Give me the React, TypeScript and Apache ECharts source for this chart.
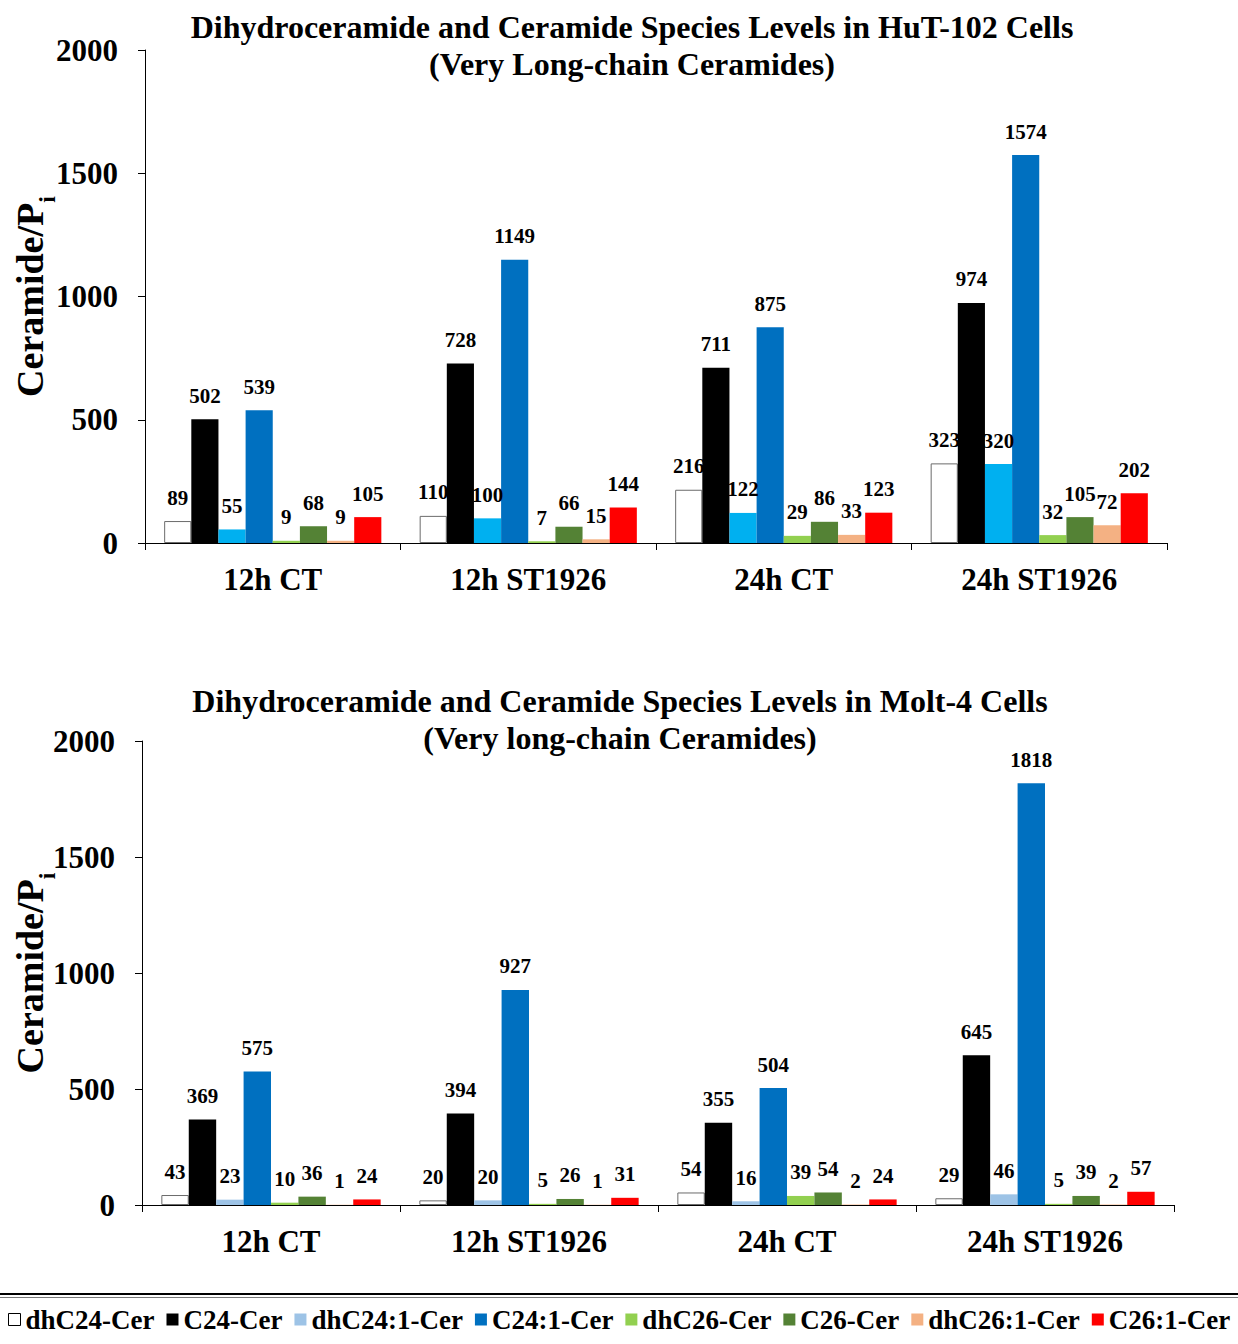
import React, { useEffect, useRef } from "react";
import * as echarts from "echarts";

// Time points / treatments on the category axis
const categories = ["12h CT", "12h ST1926", "24h CT", "24h ST1926"];

// Ceramide species in drawing order
const speciesNames = [
  "dhC24-Cer",
  "C24-Cer",
  "dhC24:1-Cer",
  "C24:1-Cer",
  "dhC26-Cer",
  "C26-Cer",
  "dhC26:1-Cer",
  "C26:1-Cer",
];

// HuT-102 cells, one array per species (values for each category)
const hutDhC24 = [89, 110, 216, 323];
const hutC24 = [502, 728, 711, 974];
const hutDhC24_1 = [55, 100, 122, 320];
const hutC24_1 = [539, 1149, 875, 1574];
const hutDhC26 = [9, 7, 29, 32];
const hutC26 = [68, 66, 86, 105];
const hutDhC26_1 = [9, 15, 33, 72];
const hutC26_1 = [105, 144, 123, 202];

// Molt-4 cells, one array per species
const moltDhC24 = [43, 20, 54, 29];
const moltC24 = [369, 394, 355, 645];
const moltDhC24_1 = [23, 20, 16, 46];
const moltC24_1 = [575, 927, 504, 1818];
const moltDhC26 = [10, 5, 39, 5];
const moltC26 = [36, 26, 54, 39];
const moltDhC26_1 = [1, 1, 2, 2];
const moltC26_1 = [24, 31, 24, 57];

const yTicks = [0, 500, 1000, 1500, 2000];

const hutSeries = [hutDhC24, hutC24, hutDhC24_1, hutC24_1, hutDhC26, hutC26, hutDhC26_1, hutC26_1];
const moltSeries = [moltDhC24, moltC24, moltDhC24_1, moltC24_1, moltDhC26, moltC26, moltDhC26_1, moltC26_1];

const hutColors = ["#FFFFFF", "#000000", "#00B0F0", "#0070C0", "#92D050", "#548235", "#F4B183", "#FF0000"];
const moltColors = ["#FFFFFF", "#000000", "#9DC3E6", "#0070C0", "#92D050", "#548235", "#F4B183", "#FF0000"];

const FONT = "'Liberation Serif', 'Times New Roman', serif";

function buildSeries(values: number[][], colors: string[], axisIndex: number) {
  return values.map((data, i) => ({
    name: speciesNames[i],
    type: "bar",
    xAxisIndex: axisIndex,
    yAxisIndex: axisIndex,
    data,
    barGap: "0%",
    barCategoryGap: "15%",
    itemStyle: {
      color: colors[i],
      borderColor: i === 0 ? "#6b6b6b" : colors[i],
      borderWidth: i === 0 ? 1 : 0,
    },
    label: {
      show: true,
      position: "top",
      distance: 13,
      color: "#000",
      fontFamily: FONT,
      fontWeight: "bold",
      fontSize: 21,
    },
  }));
}

function yAxisFor(gridIndex: number, nameGap: number) {
  return {
    type: "value",
    gridIndex,
    min: yTicks[0],
    max: yTicks[yTicks.length - 1],
    interval: 500,
    name: "{a|Ceramide/P}{b|i}",
    nameLocation: "middle",
    nameRotate: 90,
    nameGap,
    nameMoveOverlap: false,
    nameTextStyle: {
      rich: {
        a: {
          fontFamily: FONT,
          fontWeight: "bold",
          fontSize: 38,
          color: "#000",
          lineHeight: 48,
          verticalAlign: "top",
        },
        b: {
          fontFamily: FONT,
          fontWeight: "bold",
          fontSize: 24,
          color: "#000",
          lineHeight: 48,
          verticalAlign: "bottom",
        },
      },
    },
    splitLine: { show: false },
    axisLine: { show: true, lineStyle: { color: "#000", width: 1 } },
    axisTick: { show: true, length: 7, lineStyle: { color: "#000" } },
    axisLabel: {
      margin: 27,
      color: "#000",
      fontFamily: FONT,
      fontWeight: "bold",
      fontSize: 31,
      formatter: (v: number) => String(v),
    },
  };
}

function xAxisFor(gridIndex: number) {
  return {
    type: "category",
    gridIndex,
    data: categories,
    axisLine: { show: true, lineStyle: { color: "#000", width: 1 } },
    axisTick: { show: true, length: 7, alignWithLabel: false, lineStyle: { color: "#000" } },
    axisLabel: {
      margin: 21,
      color: "#000",
      fontFamily: FONT,
      fontWeight: "bold",
      fontSize: 31,
    },
  };
}

export default function App() {
  const ref = useRef<HTMLDivElement>(null);

  useEffect(() => {
    if (!ref.current) return;
    const chart = echarts.init(ref.current, undefined, { renderer: "svg" });
    const titleStyle = {
      fontFamily: FONT,
      fontWeight: "bold",
      fontSize: 32,
      fill: "#000",
      textAlign: "center",
      textVerticalAlign: "top",
      lineHeight: 37,
    };
    chart.setOption({
      animation: false,
      backgroundColor: "#fff",
      grid: [
        { left: 145, top: 50, width: 1022, height: 493, containLabel: false, outerBoundsMode: "none" },
        { left: 142, top: 741, width: 1032, height: 464, containLabel: false, outerBoundsMode: "none" },
      ],
      xAxis: [xAxisFor(0), xAxisFor(1)],
      yAxis: [yAxisFor(0, 86), yAxisFor(1, 83)],
      legend: {
        left: 3,
        top: 1301,
        itemWidth: 12,
        itemHeight: 12,
        itemGap: 12,
        icon: "rect",
        selectedMode: false,
        textStyle: {
          fontFamily: FONT,
          fontWeight: "bold",
          fontSize: 27,
          color: "#000",
        },
        data: speciesNames.map((n, i) => ({
          name: n,
          itemStyle: {
            color: moltColors[i],
            borderColor: i === 0 ? "#000" : moltColors[i],
            borderWidth: i === 0 ? 1 : 0,
          },
        })),
      },
      graphic: [
        {
          type: "text",
          x: 632,
          y: 8,
          style: {
            ...titleStyle,
            text: "Dihydroceramide and Ceramide Species Levels in HuT-102 Cells\n(Very Long-chain Ceramides)",
          },
        },
        {
          type: "text",
          x: 620,
          y: 682,
          style: {
            ...titleStyle,
            text: "Dihydroceramide and Ceramide Species Levels in Molt-4 Cells\n(Very long-chain Ceramides)",
          },
        },
        {
          type: "line",
          shape: { x1: 0, y1: 1294, x2: 1238, y2: 1294 },
          style: { stroke: "#000", lineWidth: 2 },
        },
        {
          type: "line",
          shape: { x1: 0, y1: 1297.5, x2: 1238, y2: 1297.5 },
          style: { stroke: "#777", lineWidth: 1 },
        },
      ],
      series: [...buildSeries(hutSeries, hutColors, 0), ...buildSeries(moltSeries, moltColors, 1)],
    });
    return () => chart.dispose();
  }, []);

  return (
    <div
      ref={ref}
      style={{ position: "absolute", left: 0, top: 0, width: 1238, height: 1344, background: "#fff" }}
    />
  );
}
